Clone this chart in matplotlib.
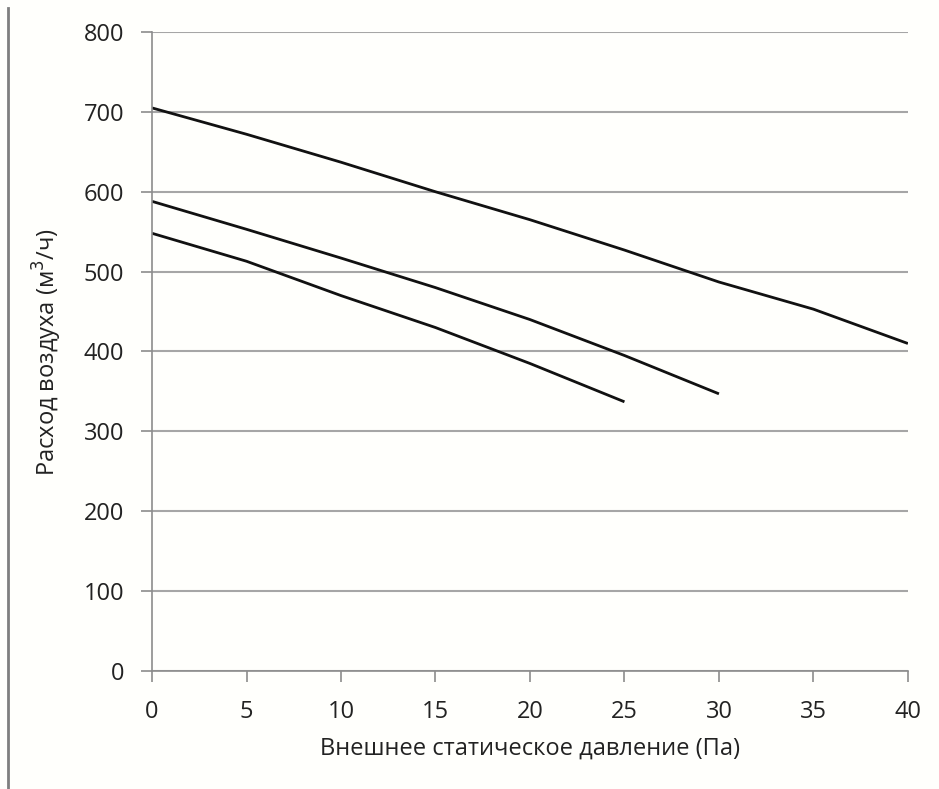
import numpy as np
import matplotlib.pyplot as plt
from matplotlib.lines import Line2D

plt.rcParams['font.family'] = ['Open Sans', 'DejaVu Sans']

# Давление (Па) и расход воздуха (м3/ч) для трёх скоростей
x_high = [0, 5, 10, 15, 20, 25, 30, 35, 40]
y_high = [705, 672, 637, 600, 565, 527, 487, 453, 410]

x_mid = [0, 5, 10, 15, 20, 25, 30]
y_mid = [588, 553, 517, 480, 440, 395, 347]

x_low = [0, 5, 10, 15, 20, 25]
y_low = [548, 513, 470, 430, 385, 337]

x_ticks = [0, 5, 10, 15, 20, 25, 30, 35, 40]
y_ticks = [0, 100, 200, 300, 400, 500, 600, 700, 800]

fig = plt.figure(figsize=(9.39, 7.89), dpi=100)
fig.patch.set_facecolor('#fffffc')
ax = fig.add_axes([0.1619, 0.1496, 0.805, 0.8098])
ax.set_facecolor('#fffffc')

for xs, ys in [(x_high, y_high), (x_mid, y_mid), (x_low, y_low)]:
    ax.plot(xs, ys, color='#111111', linewidth=2.0, solid_capstyle='butt')

ax.set_xlim(0, 40)
ax.set_ylim(0, 800)
ax.set_xticks(x_ticks)
ax.set_yticks(y_ticks)
ax.grid(axis='y', color='#a6a6a6', linewidth=1.5)
ax.set_axisbelow(True)

for s in ['top', 'right']:
    ax.spines[s].set_visible(False)
for s in ['left', 'bottom']:
    ax.spines[s].set_color('#8c8c8c')
    ax.spines[s].set_linewidth(1.2)

ax.tick_params(axis='both', colors='#8c8c8c', length=8, width=1.2,
               labelcolor='#222222', labelsize=17)
ax.tick_params(axis='x', pad=13)
ax.tick_params(axis='y', pad=12)

ax.set_xlabel('Внешнее статическое давление (Па)', fontsize=17, color='#222222', labelpad=9)
ax.set_ylabel('Расход воздуха (м$^3$/ч)', fontsize=17, color='#222222', labelpad=14)

# вертикальная линия слева
fig.add_artist(Line2D([0.0085, 0.0085], [0.0, 0.99], transform=fig.transFigure,
                      color='#7f7f7f', linewidth=2))

fig.savefig('out.png', dpi=100, facecolor=fig.get_facecolor())
